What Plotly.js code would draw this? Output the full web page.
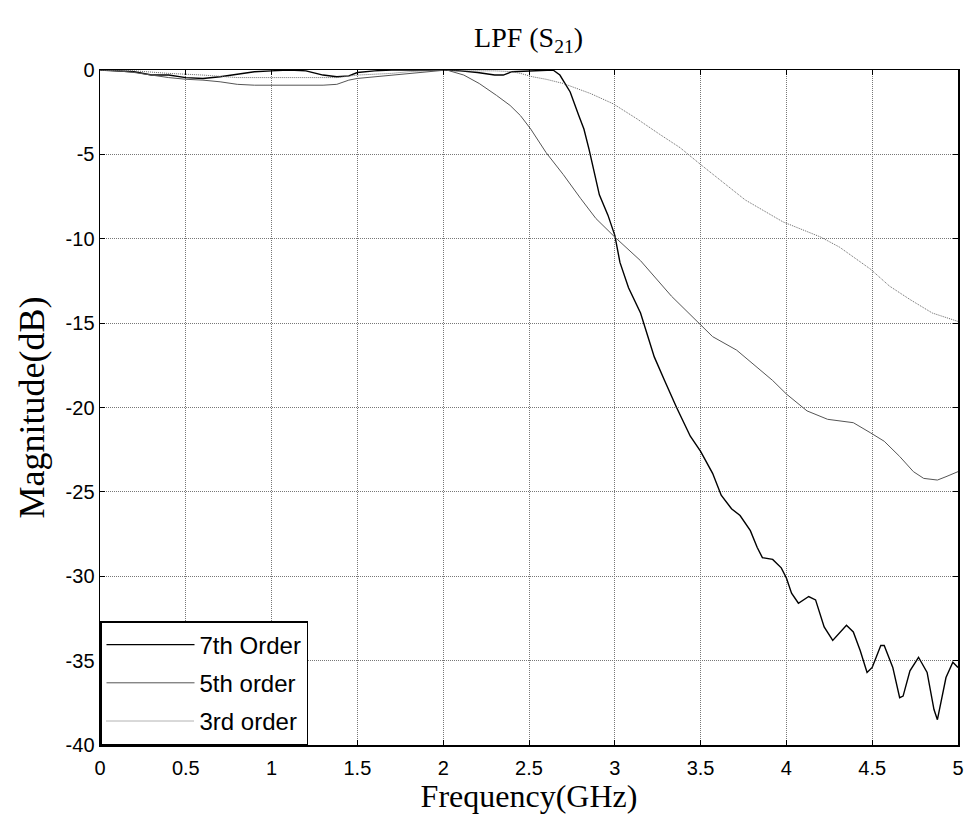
<!DOCTYPE html>
<html>
<head>
<meta charset="utf-8">
<script src="https://cdn.plot.ly/plotly-3.0.1.min.js"></script>
<style>html,body{margin:0;padding:0;background:#fff;} #chart{width:969px;height:826px;}</style>
</head>
<body>
<div id="chart"></div>
<script>
// ---- data ----
const freq7 = [0, 0.1, 0.2, 0.3, 0.4, 0.5, 0.6, 0.7, 0.8, 0.9, 1.0, 1.1, 1.2, 1.3, 1.38, 1.45, 1.5, 1.6, 1.7, 1.8, 1.9, 2.0, 2.1, 2.2, 2.3, 2.35, 2.4, 2.5, 2.6, 2.64, 2.68, 2.74, 2.79, 2.82, 2.85, 2.87, 2.91, 2.96, 3.0, 3.03, 3.08, 3.15, 3.23, 3.29, 3.36, 3.44, 3.5, 3.57, 3.62, 3.68, 3.73, 3.79, 3.83, 3.86, 3.92, 3.97, 4.0, 4.03, 4.07, 4.13, 4.17, 4.22, 4.27, 4.35, 4.39, 4.43, 4.47, 4.5, 4.55, 4.57, 4.62, 4.66, 4.68, 4.72, 4.77, 4.82, 4.86, 4.88, 4.93, 4.97, 5.0];
const mag7 = [0, -0.05, -0.1, -0.3, -0.3, -0.45, -0.5, -0.4, -0.25, -0.1, -0.05, 0, -0.05, -0.3, -0.4, -0.35, -0.15, -0.05, 0, 0, 0, 0, -0.05, -0.15, -0.3, -0.3, -0.1, -0.05, 0, 0, -0.3, -1.3, -2.7, -3.5, -4.7, -5.6, -7.4, -8.6, -9.8, -11.4, -12.9, -14.4, -17.0, -18.4, -20.0, -21.7, -22.6, -23.9, -25.2, -26.0, -26.4, -27.3, -28.3, -28.9, -29.0, -29.5, -30.1, -31.0, -31.6, -31.2, -31.4, -33.0, -33.8, -32.9, -33.3, -34.4, -35.7, -35.4, -34.1, -34.1, -35.4, -37.2, -37.1, -35.6, -34.8, -35.7, -37.9, -38.5, -36.0, -35.1, -35.4];

const freq5 = [0, 0.1, 0.2, 0.3, 0.4, 0.5, 0.6, 0.7, 0.8, 0.9, 1.0, 1.1, 1.2, 1.3, 1.38, 1.45, 1.5, 1.6, 1.7, 1.8, 1.9, 2.0, 2.02, 2.12, 2.21, 2.31, 2.39, 2.45, 2.51, 2.6, 2.7, 2.8, 2.89, 3.0, 3.15, 3.33, 3.48, 3.57, 3.71, 3.83, 3.92, 4.0, 4.12, 4.24, 4.39, 4.49, 4.57, 4.66, 4.74, 4.8, 4.88, 4.93, 5.0];
const mag5 = [0, -0.05, -0.15, -0.3, -0.45, -0.55, -0.6, -0.7, -0.85, -0.9, -0.9, -0.9, -0.9, -0.9, -0.85, -0.6, -0.5, -0.4, -0.3, -0.2, -0.1, 0, 0, -0.3, -0.8, -1.5, -2.1, -2.7, -3.5, -4.9, -6.2, -7.6, -8.8, -9.9, -11.3, -13.4, -14.9, -15.8, -16.6, -17.6, -18.4, -19.2, -20.2, -20.7, -20.9, -21.5, -22.0, -22.9, -23.8, -24.2, -24.3, -24.1, -23.8];

const freq3 = [0, 0.2, 0.4, 0.6, 0.8, 1.0, 1.2, 1.38, 1.5, 1.6, 1.7, 1.8, 1.9, 2.0, 2.1, 2.2, 2.3, 2.4, 2.45, 2.52, 2.6, 2.7, 2.86, 2.99, 3.13, 3.26, 3.38, 3.5, 3.67, 3.76, 3.98, 4.2, 4.31, 4.49, 4.6, 4.72, 4.85, 4.97, 5.0];
const mag3 = [0, -0.05, -0.2, -0.3, -0.45, -0.45, -0.45, -0.45, -0.3, -0.25, -0.2, -0.1, -0.05, 0, -0.05, -0.05, -0.05, -0.1, -0.2, -0.4, -0.55, -0.8, -1.4, -2.0, -2.9, -3.8, -4.6, -5.6, -7.0, -7.7, -9.0, -9.9, -10.5, -11.8, -12.8, -13.6, -14.4, -14.8, -14.9];

const seriesNames = ["7th Order", "5th order", "3rd order"];
const xTicks = [0, 0.5, 1, 1.5, 2, 2.5, 3, 3.5, 4, 4.5, 5];
const xTickText = ["0", "0.5", "1", "1.5", "2", "2.5", "3", "3.5", "4", "4.5", "5"];
const yTicks = [0, -5, -10, -15, -20, -25, -30, -35, -40];
const yTickText = ["0", "-5", "-10", "-15", "-20", "-25", "-30", "-35", "-40"];

const traces = [
  {x: freq7, y: mag7, name: seriesNames[0], type: "scatter", mode: "lines", legendgroup: "a",
   line: {color: "#000000", width: 1.4}},
  {x: freq5, y: mag5, name: seriesNames[1], type: "scatter", mode: "lines", legendgroup: "b",
   line: {color: "#555555", width: 1}},
  {x: freq3, y: mag3, name: seriesNames[2], type: "scatter", mode: "lines", legendgroup: "c",
   line: {color: "#666666", width: 1, dash: "1px,1px"}}
];

const tickFont = {family: "Liberation Sans, Arial, sans-serif", size: 20, color: "#000"};
const serif = "Liberation Serif";

const layout = {
  width: 969, height: 826,
  margin: {l: 100, r: 11, t: 70, b: 81, pad: 0},
  paper_bgcolor: "#fff", plot_bgcolor: "#fff",
  showlegend: true,
  title: {text: "LPF (S<sub>21</sub>)", font: {family: serif, size: 28, color: "#000"},
          x: 0.5455, xanchor: "center", y: 0.955, yanchor: "middle", yref: "container"},
  xaxis: {
    range: [0, 5], tickvals: xTicks, ticktext: xTickText, tickfont: tickFont,
    ticks: "inside", ticklen: 5, tickcolor: "#000", mirror: "ticks", ticklabelstandoff: 4,
    showline: true, linecolor: "#000", linewidth: 1.5,
    showgrid: true, gridcolor: "#777", griddash: "1px,1px", gridwidth: 1,
    zeroline: false,
    title: {text: "Frequency(GHz)", font: {family: serif, size: 32, color: "#000"}, standoff: 4}
  },
  yaxis: {
    range: [-40, 0], tickvals: yTicks, ticktext: yTickText, tickfont: tickFont,
    ticks: "inside", ticklen: 5, tickcolor: "#000", mirror: "ticks",
    showline: true, linecolor: "#000", linewidth: 1.5,
    showgrid: true, gridcolor: "#777", griddash: "1px,1px", gridwidth: 1,
    zeroline: false,
    title: {text: "Magnitude(dB)", font: {family: serif, size: 36, color: "#000"}, standoff: 10}
  },
  legend: {
    x: 0, y: 0, xanchor: "left", yanchor: "bottom",
    bgcolor: "#fff", bordercolor: "#000", borderwidth: 1.5,
    font: {family: "Liberation Sans, Arial, sans-serif", size: 24, color: "#000"},
    itemwidth: 88, tracegroupgap: 4
  }
};

Plotly.newPlot("chart", traces, layout, {displayModeBar: false, staticPlot: true});
</script>
</body>
</html>
